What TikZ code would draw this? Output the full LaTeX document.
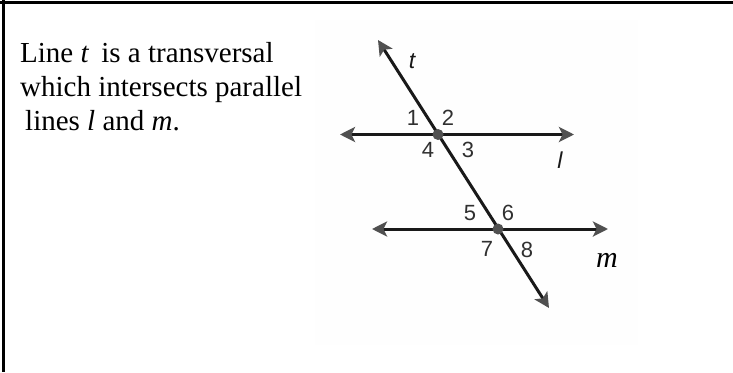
\documentclass[tikz,border=0pt]{standalone}
\usepackage{fontspec}
\setmainfont{Liberation Serif}
\newfontfamily\lblfont{Liberation Sans}
\usetikzlibrary{arrows.meta}
\definecolor{linegray}{RGB}{25,25,25}
\definecolor{tipgray}{RGB}{80,80,80}
\definecolor{panelgray}{RGB}{254,254,254}

\begin{document}
\begin{tikzpicture}[
    x=1pt, y=-1pt,
    txt/.style={anchor=base west, inner sep=0pt, font=\fontsize{29}{34}\selectfont},
    num/.style={inner sep=0pt, font=\lblfont\fontsize{22}{22}\selectfont, text=linegray!90},
    lbl/.style={inner sep=0pt, font=\lblfont\itshape\fontsize{23}{23}\selectfont, text=linegray},
    gline/.style={draw=linegray, line width=3pt, {Stealth[length=15pt, width=15pt, inset=3.5pt, color=tipgray]}-{Stealth[length=15pt, width=15pt, inset=3.5pt, color=tipgray]}},
    dot/.style={circle, fill=tipgray, inner sep=0pt, minimum size=11pt}
]
\useasboundingbox (0,0) rectangle (733,372);

% frame (top and left rules only)
\draw[line width=2.6pt] (0,2.3) -- (733,2.3);
\draw[line width=2.6pt] (3.3,0) -- (3.3,372);

% statement
\node[txt] (ln1) at (20,62.3) {Line \textit{t}\, is a transversal};
\node[txt] (ln2) at (20,96.7) {which intersects parallel};
\node[txt] (ln3) at (25,130.5) {lines \textit{l} and \textit{m}.};

% figure panel
\fill[panelgray] (315,20) rectangle (638,345);

% line end points
\coordinate (lW) at (340,134.5);
\coordinate (lE) at (574,134.5);
\coordinate (mW) at (372,229);
\coordinate (mE) at (608,229);
\coordinate (tN) at (378,40);
\coordinate (tS) at (549,308);

% parallel lines and transversal
\draw[gline] (lW) -- (lE);
\draw[gline] (mW) -- (mE);
\draw[gline] (tN) -- (tS);

% intersections
\node[dot] (p1) at (438,134.5) {};
\node[dot] (p2) at (498,229) {};

% angle numbers
\node[num] (a1) at (413,118) {1};
\node[num] (a2) at (448,118) {2};
\node[num] (a4) at (428,150) {4};
\node[num] (a3) at (468,150) {3};
\node[num] (a5) at (470,213) {5};
\node[num] (a6) at (508,213) {6};
\node[num] (a7) at (487,249) {7};
\node[num] (a8) at (527,250) {8};

% line names
\node[lbl] (nt) at (412,61) {t};
\node[lbl] (nl) at (560,160) {l};
\node[inner sep=0pt, font=\itshape\fontsize{30}{30}\selectfont] (nm) at (607,260) {m};
\end{tikzpicture}
\end{document}
